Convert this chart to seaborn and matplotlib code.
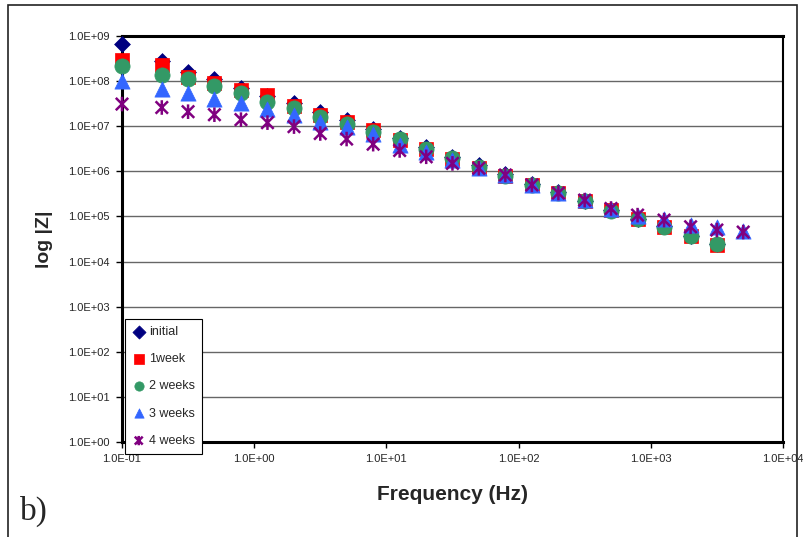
import numpy as np
import pandas as pd
import matplotlib
matplotlib.use("Agg")
import matplotlib.pyplot as plt
from matplotlib.path import Path
from matplotlib.patches import Rectangle
import seaborn as sns

# ---- data ----
freq = [0.1, 0.2, 0.316, 0.5, 0.794, 1.26, 2.0, 3.16, 5.0, 7.94, 12.6, 20.0,
        31.6, 50.0, 79.4, 126, 200, 316, 500, 794, 1260, 2000, 3160, 5000]

initial = [6.6e8, 2.8e8, 1.6e8, 1.1e8, 7.2e7, 4.6e7, 3.3e7, 2.1e7, 1.35e7, 8.6e6,
           5.6e6, 3.4e6, 2.1e6, 1.4e6, 8.6e5, 5.3e5, 3.4e5, 2.2e5, 1.4e5, 9.0e4,
           6.0e4, 3.7e4, 2.4e4]
week1 = [2.9e8, 2.3e8, 1.25e8, 8.9e7, 6.3e7, 4.9e7, 2.8e7, 1.8e7, 1.23e7, 8.3e6,
         4.9e6, 3.2e6, 1.9e6, 1.2e6, 7.9e5, 5.0e5, 3.3e5, 2.2e5, 1.38e5, 8.9e4,
         5.9e4, 3.6e4, 2.3e4]
weeks2 = [2.2e8, 1.4e8, 1.1e8, 7.6e7, 5.5e7, 3.5e7, 2.5e7, 1.6e7, 1.1e7, 7.3e6,
          5.1e6, 3.2e6, 1.95e6, 1.25e6, 8.0e5, 5.0e5, 3.3e5, 2.2e5, 1.35e5, 8.7e4,
          5.8e4, 3.6e4, 2.4e4]
weeks3 = [1.0e8, 6.6e7, 5.4e7, 4.0e7, 3.2e7, 2.4e7, 1.8e7, 1.26e7, 9.6e6, 6.7e6,
          3.8e6, 2.7e6, 1.8e6, 1.2e6, 8.2e5, 5.0e5, 3.3e5, 2.3e5, 1.45e5, 1.0e5,
          8.7e4, 6.4e4, 5.9e4, 4.8e4]
weeks4 = [3.1e7, 2.6e7, 2.1e7, 1.8e7, 1.4e7, 1.2e7, 9.8e6, 6.9e6, 5.2e6, 4.0e6,
          2.9e6, 2.1e6, 1.5e6, 1.17e6, 8.3e5, 5.0e5, 3.3e5, 2.3e5, 1.5e5, 1.07e5,
          8.3e4, 5.9e4, 5.0e4, 4.5e4]

labels = ["initial", "1week", "2 weeks", "3 weeks", "4 weeks"]
xticks = [0.1, 1, 10, 100, 1000, 10000]
xticklabels = ["1.0E-01", "1.0E+00", "1.0E+01", "1.0E+02", "1.0E+03", "1.0E+04"]
yticks = [10.0 ** k for k in range(10)]
yticklabels = ["1.0E+%02d" % k for k in range(10)]

# ---- style ----
sns.set_theme(style="white")
plt.rcParams["font.family"] = ["Liberation Sans", "DejaVu Sans"]

W, H = 804, 537
fig = plt.figure(figsize=(W / 100, H / 100), dpi=100)
ax = fig.add_axes([122 / W, 1 - 442 / H, (783 - 122) / W, (442 - 36) / H])

star = Path([(0, -1), (0, 1), (-0.85, -0.85), (0.85, 0.85), (-0.85, 0.85), (0.85, -0.85)],
            [Path.MOVETO, Path.LINETO, Path.MOVETO, Path.LINETO, Path.MOVETO, Path.LINETO])

series = [
    (initial, "D", "#000080", 65, 0.5),
    (week1, "s", "#FF0000", 95, 0.5),
    (weeks2, "o", "#339966", 120, 0.5),
    (weeks3, "^", "#3366FF", 120, 0.5),
    (weeks4, star, "#800080", 110, 1.8),
]

for (vals, mk, col, size, lw), lab in zip(series, labels):
    df = pd.DataFrame({"f": freq[:len(vals)], "z": vals})
    if mk is star:
        sns.scatterplot(data=df, x="f", y="z", ax=ax, marker=mk, s=size,
                        facecolor="none", edgecolor=col, linewidth=lw, label=lab,
                        zorder=3, clip_on=False)
    else:
        sns.scatterplot(data=df, x="f", y="z", ax=ax, marker=mk, s=size,
                        color=col, edgecolor=col, linewidth=lw, label=lab,
                        zorder=3, clip_on=False)

ax.set_xscale("log")
ax.set_yscale("log")
ax.set_xlim(0.1, 10000)
ax.set_ylim(1, 1e9)
ax.set_xticks(xticks)
ax.set_xticklabels(xticklabels)
ax.set_yticks(yticks)
ax.set_yticklabels(yticklabels)
ax.minorticks_off()
ax.tick_params(axis="both", which="major", direction="out", length=4, width=1,
               color="black", labelsize=8, pad=5, left=True, bottom=True)
ax.yaxis.grid(True, color="#666666", linewidth=1.0)
ax.xaxis.grid(False)
ax.set_axisbelow(True)

for side, lw in [("top", 2.2), ("left", 2.2), ("bottom", 2.2), ("right", 1.5)]:
    ax.spines[side].set_visible(True)
    ax.spines[side].set_color("black")
    ax.spines[side].set_linewidth(lw)

ax.set_xlabel("Frequency (Hz)", fontsize=15, fontweight="bold", labelpad=15)
ax.set_ylabel("log |Z|", fontsize=14, fontweight="bold", labelpad=11)

leg = ax.legend(loc="upper left", bbox_to_anchor=(125 / W, 1 - 319 / H),
                bbox_transform=fig.transFigure, borderaxespad=0, frameon=True,
                fancybox=False, framealpha=1, edgecolor="black", fontsize=9,
                labelspacing=1.22, handletextpad=0.3, borderpad=0.55,
                handlelength=1.1)
leg.get_frame().set_linewidth(0.8)
leg.set_zorder(10)
for h in leg.legend_handles:
    h.set_sizes([45])

fig.text(20 / W, 1 - 520 / H, "b)", fontsize=24, family="Liberation Serif",
         ha="left", va="baseline")

fig.patches.append(Rectangle((8 / W, -0.02), (797 - 8) / W, 1.02 - 5 / H,
                             transform=fig.transFigure, fill=False,
                             edgecolor="#222222", linewidth=1.2))

fig.savefig("out.png", dpi=100)
